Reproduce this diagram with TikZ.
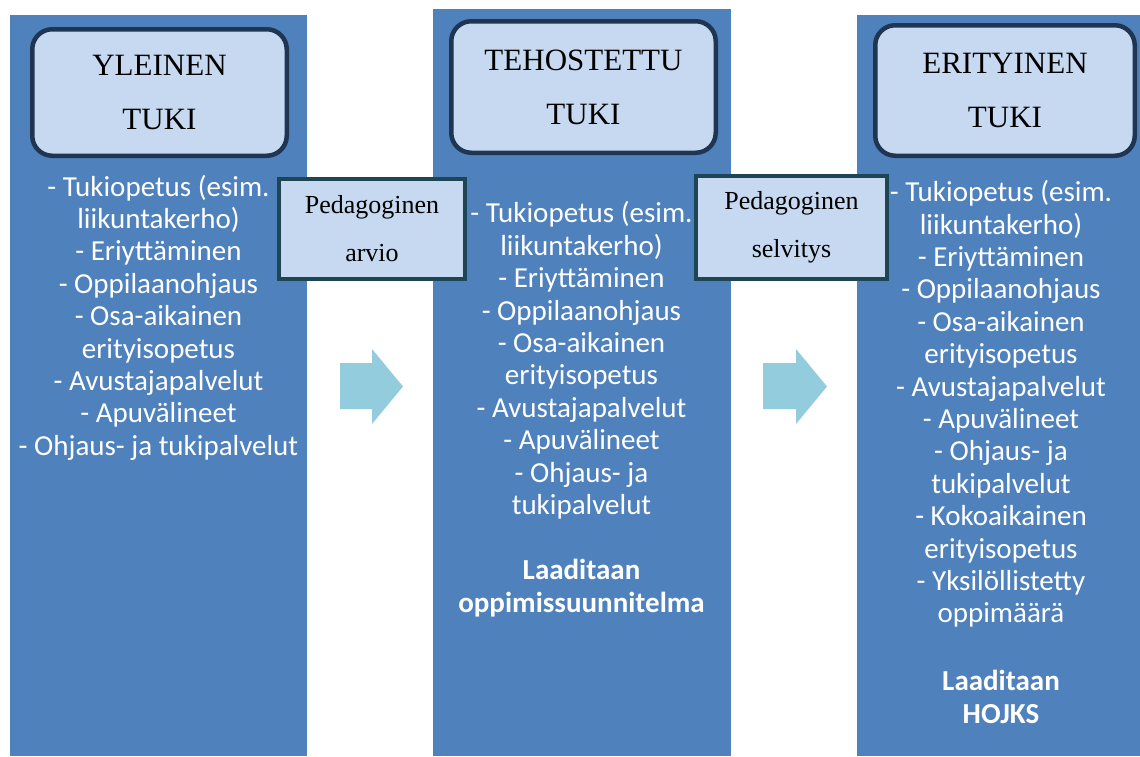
\documentclass[tikz,border=0pt]{standalone}
\usepackage{fontspec}
\setmainfont{Liberation Serif}
\newfontfamily\calfont{Carlito}
\definecolor{colblue}{HTML}{4F81BD}
\definecolor{boxfill}{HTML}{C6D9F1}
\definecolor{boxnavy}{HTML}{1F3552}
\definecolor{boxteal}{HTML}{1D4553}
\definecolor{arrowcyan}{HTML}{93CDDD}
\tikzset{
  colrect/.style={fill=colblue, draw=none},
  headbox/.style={draw=boxnavy, line width=4.5pt, fill=boxfill, rounded corners=20pt,
    align=center, inner sep=0pt, font=\fontsize{31}{54}\selectfont, text=black},
  stepbox/.style={draw=boxteal, line width=4pt, fill=boxfill, align=center, inner sep=0pt,
    font=\fontsize{26}{48}\selectfont, text=black},
  listtext/.style={text=white, align=center, inner sep=0pt,
    font=\calfont\fontsize{29}{32.4}\selectfont},
  boldtext/.style={listtext, font=\calfont\bfseries\fontsize{29}{32.4}\selectfont},
  bigarrow/.style={fill=arrowcyan, draw=none}
}
\begin{document}
\begin{tikzpicture}[x=1pt, y=-1pt]
\useasboundingbox (0,0) rectangle (1140,756);
% columns
\fill[colrect] (10,15) rectangle (307,756);
\fill[colrect] (433,9) rectangle (731,756);
\fill[colrect] (857,15) rectangle (1140,756);
% arrows
\fill[bigarrow] (340,363) -- (372,363) -- (372,349) -- (403,386.5) -- (372,424) -- (372,409) -- (340,409) -- cycle;
\fill[bigarrow] (763,363) -- (796,363) -- (796,349) -- (827,386.5) -- (796,424) -- (796,409) -- (763,409) -- cycle;
% headings
\node[headbox, minimum width=254.5pt, minimum height=126.5pt] (h1) at (159.5,92.5) {YLEINEN\\TUKI};
\node[headbox, minimum width=264.5pt, minimum height=131.5pt] (h2) at (583.5,87) {TEHOSTETTU\\TUKI};
\node[headbox, minimum width=259.5pt, minimum height=130.5pt] (h3) at (1005,90.5) {ERITYINEN\\TUKI};
% lists
\node[listtext] (l1) at (158.5,317.5) {- Tukiopetus (esim.\\liikuntakerho)\\- Eriyttäminen\\- Oppilaanohjaus\\- Osa-aikainen\\erityisopetus\\- Avustajapalvelut\\- Apuvälineet\\- Ohjaus- ja tukipalvelut};
\node[listtext] (l2) at (581.5,360.5) {- Tukiopetus (esim.\\liikuntakerho)\\- Eriyttäminen\\- Oppilaanohjaus\\- Osa-aikainen\\erityisopetus\\- Avustajapalvelut\\- Apuvälineet\\- Ohjaus- ja\\tukipalvelut};
\node[boldtext] (b2) at (581.5,588) {Laaditaan\\oppimissuunnitelma};
\node[listtext] (l3) at (1001,404) {- Tukiopetus (esim.\\liikuntakerho)\\- Eriyttäminen\\- Oppilaanohjaus\\- Osa-aikainen\\erityisopetus\\- Avustajapalvelut\\- Apuvälineet\\- Ohjaus- ja\\tukipalvelut\\- Kokoaikainen\\erityisopetus\\- Yksilöllistetty\\oppimäärä};
\node[boldtext] (b3) at (1001,697) {Laaditaan\\HOJKS};
% small boxes
\node[stepbox, minimum width=186pt, minimum height=100pt] (s1) at (372,229) {Pedagoginen\\arvio};
\node[stepbox, minimum width=191pt, minimum height=103pt] (s2) at (791.5,227.5) {Pedagoginen\\selvitys};
\end{tikzpicture}
\end{document}
